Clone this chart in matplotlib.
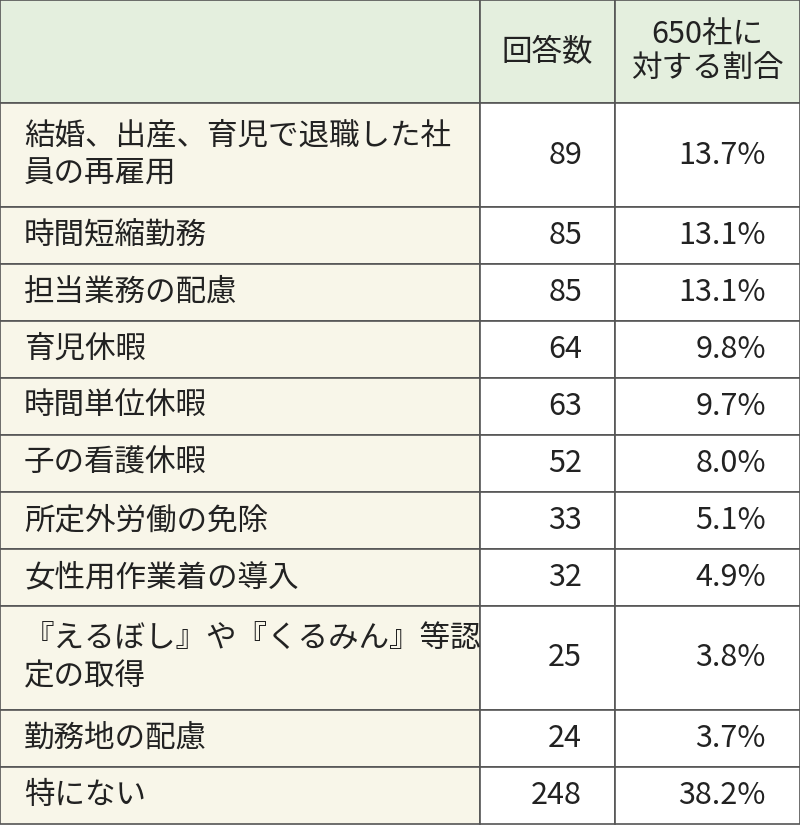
import matplotlib.pyplot as plt
from matplotlib.patches import Rectangle

plt.rcParams["font.family"] = "Noto Sans CJK JP"

items = ["結婚、出産、育児で退職した社\n員の再雇用", "時間短縮勤務", "担当業務の配慮", "育児休暇",
         "時間単位休暇", "子の看護休暇", "所定外労働の免除", "女性用作業着の導入",
         "『えるぼし』や『くるみん』等認\n定の取得", "勤務地の配慮", "特にない"]
counts = [89, 85, 85, 64, 63, 52, 33, 32, 25, 24, 248]
shares = [13.7, 13.1, 13.1, 9.8, 9.7, 8.0, 5.1, 4.9, 3.8, 3.7, 38.2]
headers = ["回答数", "650社に\n対する割合"]

W, H = 800, 825
col_x = [0, 480, 615, 800]
row_h = [103] + [104 if "\n" in s else 57 for s in items]

fig = plt.figure(figsize=(8, 8.25), dpi=100)
ax = fig.add_axes([0, 0, 1, 1])
ax.set_xlim(0, W)
ax.set_ylim(H, 0)
ax.axis("off")

green = "#e4efde"
cream = "#f8f6e9"
line = "#555555"
fs = 22

y = 0
for r, h in enumerate(row_h):
    for c in range(3):
        if r == 0:
            fc = green
        elif c == 0:
            fc = cream
        else:
            fc = "white"
        ax.add_patch(Rectangle((col_x[c], y), col_x[c + 1] - col_x[c], h,
                               facecolor=fc, edgecolor=line, linewidth=1.2))
    cy = y + h / 2
    if r == 0:
        ax.text(547, cy, headers[0], ha="center", va="center", fontsize=fs, color="#222")
        ax.text(707, cy, headers[1], ha="center", va="center", fontsize=fs,
                color="#222", linespacing=1.15)
    else:
        i = r - 1
        ax.text(24, cy, items[i], ha="left", va="center", fontsize=fs,
                color="#222", linespacing=1.3)
        ax.text(582, cy, str(counts[i]), ha="right", va="center", fontsize=fs, color="#222")
        ax.text(766, cy, f"{shares[i]:.1f}%", ha="right", va="center", fontsize=fs, color="#222")
    y += h

fig.savefig("out.png", dpi=100)
